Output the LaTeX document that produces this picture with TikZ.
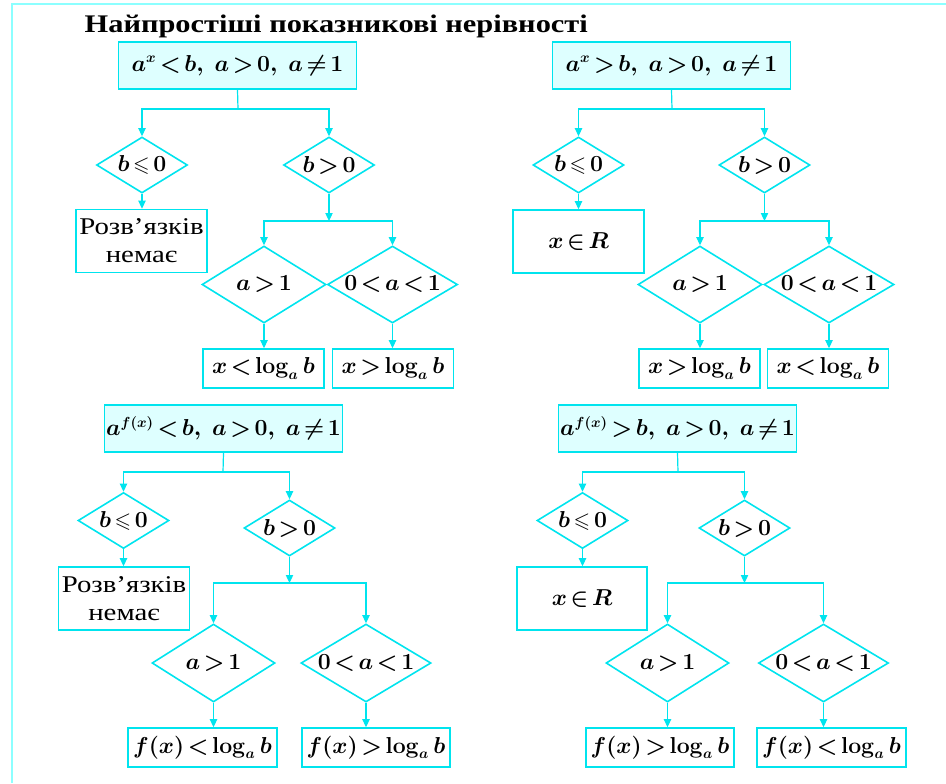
\documentclass[tikz,border=0pt]{standalone}
\usepackage{amsmath,amssymb}
\usepackage[no-math]{fontspec}
\newfontfamily\uafont[FakeStretch=1.2]{Liberation Serif}
\usetikzlibrary{shapes.geometric,arrows.meta}
\definecolor{flowcyan}{RGB}{0,228,238}
\definecolor{flowfill}{RGB}{222,255,255}
\definecolor{framecyan}{RGB}{140,255,255}
\newcommand\tightmath{\thickmuskip=2.5mu\relax\medmuskip=2mu\relax}
\begin{document}
\begin{tikzpicture}[x=0.75pt,y={(0,-0.75pt)},
  mathtext/.style={font=\fontsize{16}{19}\selectfont\boldmath\tightmath},
  topbox/.style={draw=flowcyan, fill=flowfill, line width=1.2pt, inner sep=0pt, minimum width=238*0.75pt, minimum height=47*0.75pt, mathtext},
  cond/.style 2 args={diamond, aspect=2, draw=flowcyan, line width=1.2pt, inner sep=0pt, minimum width=#1*0.75pt, minimum height=#2*0.75pt, mathtext},
  resbox/.style 2 args={draw=flowcyan, line width=1.2pt, inner sep=0pt, minimum width=#1*0.75pt, minimum height=#2*0.75pt, mathtext},
  nobox/.style={draw=flowcyan, line width=1.2pt, inner sep=0pt, minimum width=131*0.75pt, minimum height=63*0.75pt, align=center, font=\uafont\fontsize{18}{21}\selectfont},
  wire/.style={draw=flowcyan, line width=0.9pt},
  conn/.style={wire, -{Triangle[width=5.5pt,length=6pt]}}]
\useasboundingbox (0,0) rectangle (946,783);
\draw[framecyan, line width=1.6pt] (12,783) -- (12,4) -- (946,4);
\node[anchor=base west, font=\uafont\bfseries\fontsize{19}{23}\selectfont] (title) at (80,32) {Найпростіші показникові нерівності};

\node[topbox] (tltop) at (237.5,65.5) {$a^{x}<b,\ a>0,\ a\neq1$};
\node[cond={91}{56}] (tlneg) at (142,165) {$b\leqslant0$};
\node[cond={91}{56}] (tlpos) at (329,165) {$b>0$};
\node[nobox] (tlnone) at (141.5,241) {Розв’язків\\немає};
\node[cond={124}{77}] (tlgt) at (264,284.5) {$a>1$};
\node[cond={124}{77}] (tlmid) at (392.5,284.5) {$0<a<1$};
\node[resbox={121}{39}] (tlgtres) at (263.5,368.5) {$x<\log_a b$};
\node[resbox={121}{39}] (tlmidres) at (393,368.5) {$x>\log_a b$};
\coordinate (tlj) at (238,109);
\coordinate (tlk) at (329,221);
\draw[wire] (tltop.south) -- (tlj);
\draw[conn] (tlj) -| (tlneg.north);
\draw[conn] (tlj) -| (tlpos.north);
\draw[conn] (tlneg.south) -- (tlneg.south |- tlnone.north);
\draw[conn] (tlpos.south) -- (tlk);
\draw[conn] (tlk) -| (tlgt.north);
\draw[conn] (tlk) -| (tlmid.north);
\draw[conn] (tlgt.south) -- (tlgt.south |- tlgtres.north);
\draw[conn] (tlmid.south) -- (tlmid.south |- tlmidres.north);

\node[topbox] (trtop) at (671.5,65.5) {$a^{x}>b,\ a>0,\ a\neq1$};
\node[cond={91}{56}] (trneg) at (578.5,165) {$b\leqslant0$};
\node[cond={91}{56}] (trpos) at (764.5,165) {$b>0$};
\node[resbox={131}{63}] (trall) at (578.5,241.5) {$x\in R$};
\node[cond={124}{77}] (trgt) at (700,284.5) {$a>1$};
\node[cond={124}{77}] (trmid) at (829,284.5) {$0<a<1$};
\node[resbox={121}{39}] (trgtres) at (699.5,368.5) {$x>\log_a b$};
\node[resbox={121}{39}] (trmidres) at (828,368.5) {$x<\log_a b$};
\coordinate (trj) at (672,109);
\coordinate (trk) at (764.5,221);
\draw[wire] (trtop.south) -- (trj);
\draw[conn] (trj) -| (trneg.north);
\draw[conn] (trj) -| (trpos.north);
\draw[conn] (trneg.south) -- (trneg.south |- trall.north);
\draw[conn] (trpos.south) -- (trk);
\draw[conn] (trk) -| (trgt.north);
\draw[conn] (trk) -| (trmid.north);
\draw[conn] (trgt.south) -- (trgt.south |- trgtres.north);
\draw[conn] (trmid.south) -- (trmid.south |- trmidres.north);

\node[topbox] (bltop) at (223.5,428.5) {$a^{f(x)}<b,\ a>0,\ a\neq1$};
\node[cond={91}{56}] (blneg) at (123.5,520.5) {$b\leqslant0$};
\node[cond={91}{56}] (blpos) at (289.5,528) {$b>0$};
\node[nobox] (blnone) at (124,598.5) {Розв’язків\\немає};
\node[cond={123}{78}] (blgt) at (213.5,663) {$a>1$};
\node[cond={123}{78}] (blmid) at (366,663) {$0<a<1$};
\node[resbox={149}{39}] (blgtres) at (202.5,747.5) {$f(x)<\log_a b$};
\node[resbox={148}{39}] (blmidres) at (376,747.5) {$f(x)>\log_a b$};
\coordinate (blj) at (223,472);
\coordinate (blk) at (289.5,583);
\draw[wire] (bltop.south) -- (blj);
\draw[conn] (blj) -| (blneg.north);
\draw[conn] (blj) -| (blpos.north);
\draw[conn] (blneg.south) -- (blneg.south |- blnone.north);
\draw[conn] (blpos.south) -- (blk);
\draw[conn] (blk) -| (blgt.north);
\draw[conn] (blk) -| (blmid.north);
\draw[conn] (blgt.south) -- (blgt.south |- blgtres.north);
\draw[conn] (blmid.south) -- (blmid.south |- blmidres.north);

\node[topbox] (brtop) at (677.5,428.5) {$a^{f(x)}>b,\ a>0,\ a\neq1$};
\node[cond={91}{56}] (brneg) at (582.5,520.5) {$b\leqslant0$};
\node[cond={91}{56}] (brpos) at (744.5,528) {$b>0$};
\node[resbox={130}{63}] (brall) at (582,598.5) {$x\in R$};
\node[cond={123}{78}] (brgt) at (667.5,663) {$a>1$};
\node[cond={123}{78}] (brmid) at (823.5,663) {$0<a<1$};
\node[resbox={148}{39}] (brgtres) at (660,747.5) {$f(x)>\log_a b$};
\node[resbox={149}{39}] (brmidres) at (831.5,747.5) {$f(x)<\log_a b$};
\coordinate (brj) at (678,472);
\coordinate (brk) at (744.5,583);
\draw[wire] (brtop.south) -- (brj);
\draw[conn] (brj) -| (brneg.north);
\draw[conn] (brj) -| (brpos.north);
\draw[conn] (brneg.south) -- (brneg.south |- brall.north);
\draw[conn] (brpos.south) -- (brk);
\draw[conn] (brk) -| (brgt.north);
\draw[conn] (brk) -| (brmid.north);
\draw[conn] (brgt.south) -- (brgt.south |- brgtres.north);
\draw[conn] (brmid.south) -- (brmid.south |- brmidres.north);
\end{tikzpicture}
\end{document}
